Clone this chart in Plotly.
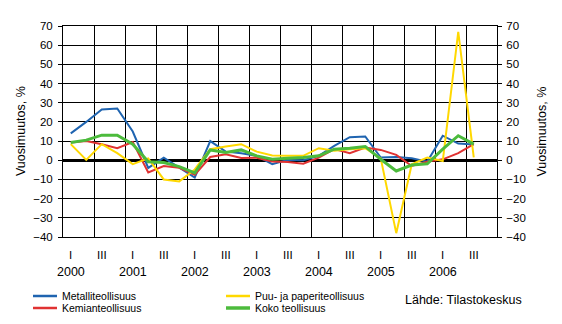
import plotly.graph_objects as go

# Quarterly year-on-year change of industrial output, 2000 Q1 - 2006 Q3
years = ["2000", "2001", "2002", "2003", "2004", "2005", "2006"]
quarter_names = ["I", "II", "III", "IV"]
n_slots = 28  # 7 years x 4 quarters; the last slot (2006 IV) has no data yet

metalli = [14, 20, 26.5, 27, 15, -4, 1.4, -4, -9, 10, 4.5, 3.7, 2.3, -2,
           0.2, 0, 2.3, 7.5, 12, 12.4, 1.4, 1.7, 1, -0.7, 12.8, 8.7, 8.2]
kemia = [9.3, 10, 8.4, 6.3, 9.5, -6.3, -3, -3.9, -7.6, 1.7, 3.1, 1.2, 1.3, -0.7,
         -0.9, -1.8, 1.4, 5.8, 3.7, 6.6, 5.4, 2.8, -3, -0.7, 0.5, 3.7, 8.4]
puu_paperi = [8.4, 0.2, 8.4, 3.7, -2, 1, -10, -11, -4.8, 5.8, 7.2, 8.4, 4.5, 2.5,
              2.3, 2.3, 6.3, 5, 5.8, 6.3, 1, -38, -2.1, 1.4, -0.4, 67, 1.5]
koko = [9.3, 10.5, 13.1, 13.1, 8.4, -0.8, -1.2, -3.3, -6.6, 5.4, 4, 5.4, 2.3, 0.5,
        1, 1.4, 2.3, 5.8, 6.3, 7.2, 0.5, -5.6, -2.5, -1.8, 5.8, 12.8, 8.4]

series = [
    ("Metalliteollisuus", metalli, "#1f64b0", 2),
    ("Kemianteollisuus", kemia, "#e03232", 2),
    ("Puu- ja paperiteollisuus", puu_paperi, "#ffd800", 2),
    ("Koko teollisuus", koko, "#4cbb3c", 3),
]

FONT = "Liberation Sans, Arial, sans-serif"
W, H = 562, 324
L, R, T, B = 63, 497, 26, 237  # plot area in pixels


def px_x(x):
    return (x - L) / (R - L)


def px_y(y):
    return (B - y) / (B - T)


fig = go.Figure()
for name, vals, color, width in series:
    fig.add_trace(go.Scatter(
        x=list(range(len(vals))), y=vals, mode="lines", name=name,
        line=dict(color=color, width=width), showlegend=False,
        hoverinfo="skip",
    ))

annotations = []
shapes = []

# quarter marks (I / III) and year labels under the plot
for k in range(n_slots):
    q = quarter_names[k % 4]
    if q in ("I", "III"):
        annotations.append(dict(
            x=k, y=px_y(255), xref="x", yref="paper", text=q, showarrow=False,
            font=dict(family=FONT, size=11.5, color="black"),
            xanchor="center", yanchor="middle"))
    if q == "I":
        annotations.append(dict(
            x=k, y=px_y(272), xref="x", yref="paper", text=years[k // 4],
            showarrow=False, font=dict(family=FONT, size=12.5, color="black"),
            xanchor="center", yanchor="middle"))

# axis titles on both sides
for xp in (20.5, 541):
    annotations.append(dict(
        x=px_x(xp), y=px_y(131.5), xref="paper", yref="paper",
        text="Vuosimuutos, %", textangle=-90, showarrow=False,
        font=dict(family=FONT, size=12.5, color="black"),
        xanchor="center", yanchor="middle"))

# legend: two columns of line samples with labels
legend_pos = [(33, 296), (33, 308), (226, 296), (226, 308)]
order = [0, 1, 2, 3]
for (lx, ly), idx in zip(legend_pos, order):
    name, _, color, width = series[idx]
    shapes.append(dict(
        type="line", xref="paper", yref="paper",
        x0=px_x(lx), x1=px_x(lx + 24), y0=px_y(ly), y1=px_y(ly),
        line=dict(color=color, width=width + 0.5)))
    annotations.append(dict(
        x=px_x(lx + 27), y=px_y(ly), xref="paper", yref="paper", text=name,
        showarrow=False, font=dict(family=FONT, size=10.5, color="black"),
        xanchor="left", yanchor="middle"))

annotations.append(dict(
    x=px_x(403), y=px_y(300), xref="paper", yref="paper",
    text="Lähde: Tilastokeskus", showarrow=False,
    font=dict(family=FONT, size=12.5, color="black"),
    xanchor="left", yanchor="middle"))

yaxis_common = dict(
    range=[-40, 70], dtick=10, tick0=0,
    showgrid=True, gridcolor="black", gridwidth=1,
    ticks="outside", ticklen=4, tickcolor="black", tickwidth=1,
    showline=True, linecolor="black", linewidth=1,
    tickfont=dict(family=FONT, size=11.5, color="black"),
    fixedrange=True,
)

fig.update_layout(
    width=W, height=H,
    margin=dict(l=L, r=W - R, t=T, b=H - B),
    paper_bgcolor="white", plot_bgcolor="white",
    xaxis=dict(
        range=[-0.5, n_slots - 0.5],
        tickvals=[k - 0.5 for k in range(0, n_slots + 1, 2)],
        showticklabels=False, ticks="",
        showgrid=True, gridcolor="black", gridwidth=1,
        showline=True, linecolor="black", linewidth=1, mirror=True,
        zeroline=False, fixedrange=True,
    ),
    yaxis=dict(**yaxis_common, zeroline=True, zerolinecolor="black",
               zerolinewidth=2.5, side="left", ticklabelstandoff=3),
    yaxis2=dict(**yaxis_common, overlaying="y", side="right",
                zeroline=False, ticklabelstandoff=2),
    annotations=annotations,
    shapes=shapes,
    showlegend=False,
)

# the right-hand axis mirrors the left scale
fig.add_trace(go.Scatter(x=[], y=[], yaxis="y2", showlegend=False))

fig.write_html("out.html", config={"displayModeBar": False})
